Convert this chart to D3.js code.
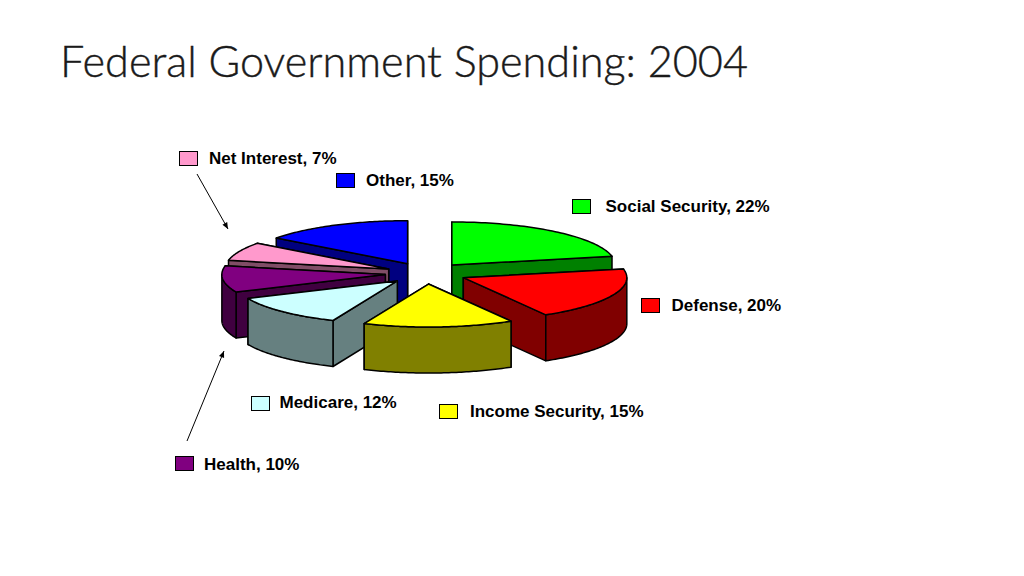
<!DOCTYPE html>
<html><head><meta charset="utf-8">
<script src="https://cdn.jsdelivr.net/npm/d3@7/dist/d3.min.js"></script>
<style>html,body{margin:0;padding:0;background:#fff}svg{display:block}</style>
</head><body><svg id="c" width="1024" height="576"></svg>
<script>
const titleText = "Federal Government Spending: 2004";
const categories = ["Social Security","Defense","Income Security","Medicare","Health","Net Interest","Other"];
const values = [22,20,15,12,10,7,15];
const topColors = ["#00ff00","#ff0000","#ffff00","#ccffff","#800080","#ff99cc","#0000ff"];
const sideColors = ["#008000","#800000","#808000","#668080","#400040","#804d66","#000080"];
const drawOrder = ["Other","Social Security","Net Interest","Health","Defense","Medicare","Income Security"];
// legend placement: swatch left, swatch top, label left, label baseline
const legendLayout = {
  "Net Interest":[179,151,209,164], "Other":[336,173,366,186], "Social Security":[572,199,605.5,212],
  "Defense":[641,298,671.5,311], "Medicare":[251,396,279.5,408], "Income Security":[439,404,470,417], "Health":[175,456,204,470]
};
const arrows = [[197,174,228,229],[187,441,224,351]];

const svg = d3.select("#c");
const font = "'Liberation Sans',Arial,sans-serif";
svg.append("text").attr("x",60).attr("y",77).attr("font-family","Lato,'Open Sans',sans-serif")
   .attr("font-weight",300).attr("font-size",43.5).attr("fill","#1a1a1a").attr("stroke","#1a1a1a").attr("stroke-width",0.4)
   .attr("textLength",688).attr("lengthAdjust","spacingAndGlyphs").text(titleText);

const x = d3.scaleLinear().domain([-1,1]).range([426-163.5,426+163.5]);
const y = d3.scaleLinear().domain([-1,1]).range([273.3-43,273.3+43]);
const depth = 46, explode = 0.25;
const arcs = d3.pie().sort(null).value((d,i)=>values[i])(categories);
const line = d3.line().x(d=>d[0]).y(d=>d[1]);

function draw(pts, fill){
  svg.append("path").attr("d",line(pts)+"Z").attr("fill",fill)
     .attr("stroke","#000").attr("stroke-width",1.5).attr("stroke-linejoin","round");
}
drawOrder.forEach(name=>{
  const i = categories.indexOf(name), a = arcs[i];
  const mid = (a.startAngle+a.endAngle)/2;
  const pt = (t,r)=>[x(r*Math.sin(t)+explode*Math.sin(mid)), y(-r*Math.cos(t)-explode*Math.cos(mid))];
  const apex = pt(0,0);
  const sweep = (t0,t1)=>d3.range(61).map(k=>pt(t0+(t1-t0)*k/60,1));
  const down = p=>[p[0],p[1]+depth];
  // radial walls, further-back one first
  [a.startAngle,a.endAngle].map(t=>pt(t,1)).sort((p,q)=>p[1]-q[1]).forEach(p=>{
    draw([apex,p,down(p),down(apex)],sideColors[i]);
  });
  // outer wall: only the part of the rim that faces the viewer
  const lo = Math.max(a.startAngle,Math.PI/2), hi = Math.min(a.endAngle,Math.PI*1.5);
  if(hi>lo){
    const rim = sweep(lo,hi);
    draw(rim.concat(rim.map(down).reverse()),sideColors[i]);
  }
  draw([apex].concat(sweep(a.startAngle,a.endAngle)),topColors[i]);
});

categories.forEach((c,i)=>{
  const [sx,sy,tx,ty] = legendLayout[c];
  svg.append("rect").attr("x",sx+.5).attr("y",sy+.5).attr("width",18).attr("height",14)
     .attr("fill",topColors[i]).attr("stroke","#000").attr("stroke-width",1);
  svg.append("text").attr("x",tx).attr("y",ty).attr("font-family",font).attr("font-weight",700)
     .attr("font-size",17).attr("fill","#000").text(`${c}, ${values[i]}%`);
});

arrows.forEach(([x1,y1,x2,y2])=>{
  svg.append("line").attr("x1",x1).attr("y1",y1).attr("x2",x2).attr("y2",y2).attr("stroke","#000").attr("stroke-width",1);
  const ang=Math.atan2(y2-y1,x2-x1), L=7, W=.4;
  svg.append("path").attr("fill","#000").attr("d",line([[x2,y2],
    [x2-L*Math.cos(ang-W),y2-L*Math.sin(ang-W)],[x2-L*Math.cos(ang+W),y2-L*Math.sin(ang+W)]])+"Z");
});
</script></body></html>
